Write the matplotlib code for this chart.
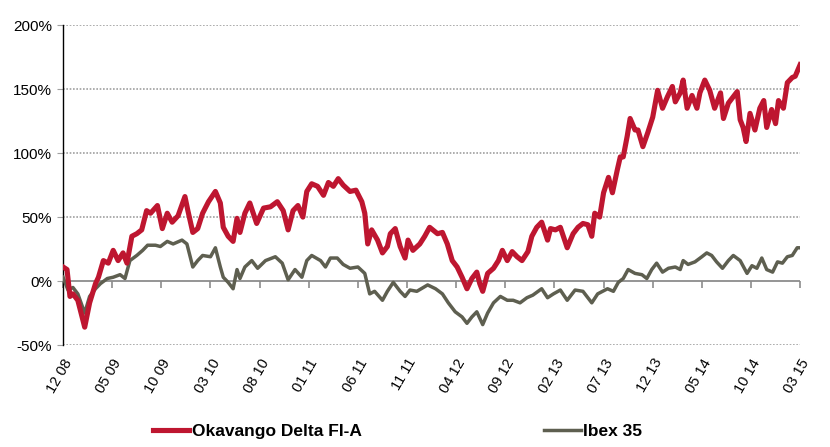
import matplotlib.pyplot as plt
import numpy as np

# months since Dec 2008
okav_m = [0.0, 0.4, 0.7, 1.0, 1.5, 2.2, 2.7, 3.3, 3.6, 4.1, 4.6, 5.1, 5.6, 6.1, 6.5,
          7.0, 7.5, 8.0, 8.5, 8.9, 9.6, 10.1, 10.6, 11.1, 11.7, 12.4, 12.7, 13.2, 13.7,
          14.2, 14.8, 15.5, 16.0, 16.3, 16.8, 17.3, 17.7, 18.0, 18.5, 19.0, 19.7, 20.4,
          21.1, 21.8, 22.4, 22.9, 23.4, 23.9, 24.4, 24.8, 25.3, 25.9, 26.5, 27.0, 27.5,
          28.0, 28.5, 29.2, 29.8, 30.4, 30.7, 31.0, 31.4, 32.0, 32.5, 33.0, 33.3, 33.8,
          34.3, 34.8, 35.1, 35.6, 36.3, 36.8, 37.3, 38.1, 38.6, 39.1, 39.6, 40.1, 40.6,
          41.1, 41.6, 42.1, 42.4, 42.7, 43.2, 43.8, 44.3, 44.7, 45.2, 45.7, 46.2, 46.7,
          47.3, 47.7, 48.2, 48.7, 49.3, 49.6, 50.1, 50.6, 51.3, 51.9, 52.4, 52.9, 53.4,
          53.8, 54.1, 54.6, 55.0, 55.5, 55.9, 56.4, 56.7, 57.0, 57.4, 57.7, 58.2, 58.5,
          59.0, 59.5, 60.0, 60.5, 61.0, 61.5, 62.0, 62.3, 62.8, 63.1, 63.5, 64.0, 64.5,
          64.8, 65.3, 65.8, 66.3, 66.9, 67.2, 67.7, 68.2, 68.6, 68.9, 69.2, 69.5, 69.9,
          70.4, 70.9, 71.3, 71.6, 72.1, 72.5, 72.8, 73.3, 73.7, 74.2, 74.5, 75.0]
okav = [11, 9, -12, -10, -15, -36, -17, -2, 3, 16, 14, 24, 16, 22, 14,
        35, 37, 40, 55, 53, 59, 41, 53, 46, 51, 66, 55, 38, 41,
        53, 62, 70, 61, 42, 35, 31, 49, 38, 53, 61, 45, 57,
        58, 62, 55, 40, 55, 59, 50, 70, 76, 74, 67, 77, 74,
        80, 75, 70, 71, 62, 53, 29, 40, 32, 22, 27, 37, 41,
        27, 18, 32, 24, 29, 35, 42, 37, 38, 29, 16, 11, 3,
        -6, 2, 7, -2, -8, 6, 10, 16, 24, 16, 23, 19, 16,
        23, 35, 42, 46, 32, 41, 40, 42, 26, 37, 42, 45, 44,
        35, 53, 50, 69, 81, 69, 87, 97, 97, 113, 127, 118, 118,
        105, 116, 128, 149, 135, 144, 152, 140, 147, 157, 135, 145, 135,
        147, 157, 149, 135, 147, 127, 139, 144, 148, 126, 120, 109, 131,
        118, 135, 141, 120, 134, 123, 141, 135, 155, 159, 160, 169]

ibex_m = [0.0, 0.5, 1.0, 1.5, 2.2, 2.7, 3.3, 3.8, 4.5, 5.1, 5.8, 6.3, 6.8, 7.5, 8.1,
          8.6, 9.4, 9.9, 10.6, 11.2, 12.1, 12.6, 13.2, 13.7, 14.2, 15.0, 15.5, 16.0,
          16.3, 16.8, 17.3, 17.7, 18.0, 18.5, 19.2, 19.8, 20.6, 21.6, 22.3, 22.9, 23.6,
          24.3, 24.8, 25.3, 26.2, 26.7, 27.2, 27.9, 28.5, 29.2, 30.0, 30.7, 31.2, 31.7,
          32.5, 33.0, 33.6, 34.3, 34.8, 35.3, 36.0, 37.1, 37.9, 38.6, 39.2, 39.9, 40.6,
          41.1, 41.6, 42.1, 42.7, 43.2, 43.8, 44.5, 45.2, 45.8, 46.5, 47.2, 47.8, 48.7,
          49.3, 49.9, 50.6, 51.3, 52.1, 52.9, 53.8, 54.4, 55.4, 56.0, 56.5, 57.0, 57.5,
          58.2, 58.9, 59.4, 59.9, 60.4, 61.0, 61.6, 62.3, 62.8, 63.1, 63.6, 64.3, 65.0,
          65.5, 66.0, 66.5, 67.1, 67.7, 68.2, 68.9, 69.6, 70.1, 70.6, 71.1, 71.6, 72.2,
          72.7, 73.2, 73.7, 74.2, 74.7, 75.0]
ibex = [3, -7, -5, -10, -25, -12, -6, -2, 2, 3, 5, 2, 16, 20, 24,
        28, 28, 27, 31, 29, 32, 29, 11, 16, 20, 19, 26, 11,
        3, -1, -6, 9, 2, 11, 16, 10, 16, 19, 14, 1, 9,
        3, 16, 20, 16, 11, 18, 18, 13, 10, 11, 6, -10, -8,
        -15, -8, -1, -8, -12, -7, -8, -3, -6, -10, -17, -24, -28,
        -33, -28, -24, -34, -25, -17, -12, -15, -15, -17, -13, -11, -6,
        -13, -10, -7, -15, -7, -8, -17, -10, -6, -8, -1, 2, 9,
        6, 5, 2, 9, 14, 7, 10, 11, 9, 16, 13, 15, 19,
        22, 20, 15, 10, 16, 20, 16, 6, 12, 10, 18, 9, 7,
        15, 14, 19, 20, 26, 26]

tick_labels = ['12 08', '05 09', '10 09', '03 10', '08 10', '01 11', '06 11', '11 11',
               '04 12', '09 12', '02 13', '07 13', '12 13', '05 14', '10 14', '03 15']

red = '#BE1630'
grey = '#5E5F50'

fig = plt.figure(figsize=(8.3, 4.47), dpi=100)
ax = fig.add_axes([0.076, 0.228, 0.888, 0.716])

ax.plot(ibex_m, ibex, color=grey, lw=2.5, label='Ibex 35', zorder=3)
ax.plot(okav_m, okav, color=red, lw=3.7, label='Okavango Delta FI-A', zorder=4)

ax.set_xlim(0, 75)
ax.set_ylim(-50, 200)
ax.set_yticks([-50, 0, 50, 100, 150, 200])
ax.set_yticklabels(['-50%', '0%', '50%', '100%', '150%', '200%'],
                   fontsize=11, family=['Liberation Sans', 'DejaVu Sans'])
for v in [-50, 50, 100, 150, 200]:
    ax.axhline(v, color='#A0A0A0', lw=1.2, ls=(0, (1, 1)), zorder=1)
ax.axhline(0, color='#8C8C8C', lw=1.3, zorder=2)

ax.spines['top'].set_visible(False)
ax.spines['right'].set_visible(False)
ax.spines['bottom'].set_visible(False)
ax.spines['left'].set_color('black')
ax.spines['left'].set_linewidth(1.0)
ax.tick_params(axis='y', length=4, color='#A0A0A0', pad=4)

xt = np.arange(0, 76, 5)
ax.set_xticks(xt)
ax.set_xticklabels(tick_labels, rotation=60, ha='right', rotation_mode='anchor',
                   fontsize=10.5, family=['Liberation Sans', 'DejaVu Sans'])
ax.tick_params(axis='x', length=0, pad=8)

# tick marks sit on the 0% line
sec = ax.secondary_xaxis(0.2)
sec.set_xticks(xt)
sec.set_xticklabels([])
sec.spines['bottom'].set_visible(False)
sec.tick_params(axis='x', length=5, color='#8C8C8C', width=1.2, direction='out')

h, l = ax.get_legend_handles_labels()
fig.legend(h[::-1], l[::-1], loc='center', bbox_to_anchor=(0.479, 0.034), ncol=2,
           frameon=False, handlelength=2.1, handletextpad=0.15, columnspacing=10.5,
           prop={'family': ['Liberation Sans Narrow', 'Liberation Sans'],
                 'weight': 'bold', 'size': 12.5})

fig.savefig('out.png', dpi=100)
